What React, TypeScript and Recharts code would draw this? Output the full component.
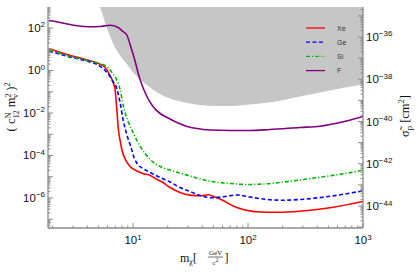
import { Area, ComposedChart, Line, XAxis, YAxis } from 'recharts'

// masses in GeV/c^2 (left axis units)
const xeMass = [1.86, 2.67, 3.98, 4.86, 5.71, 6.31, 6.7, 6.97, 7.11, 7.26, 7.41, 7.71, 8.02, 8.77, 9.42, 10.6, 12.2, 14.1, 16.2, 18.2, 21.0, 25.6, 31.3, 38.3, 44.9, 51.7, 60.7, 74.1, 94.2, 127, 179, 283, 516, 1000]
const xeVal = [10.5, 5.66, 3.12, 2.25, 1.38, 0.582, 0.272, 0.128, 0.0432, 0.0106, 0.00232, 5.08e-4, 1.72e-4, 5.22e-5, 3.03e-5, 1.97e-5, 1.42e-5, 1.15e-5, 7.43e-6, 5.36e-6, 3.12e-6, 1.82e-6, 1.36e-6, 1.27e-6, 1.42e-6, 1.11e-6, 7.63e-7, 4.21e-7, 2.72e-7, 2.19e-7, 2.12e-7, 2.39e-7, 3.46e-7, 6.84e-7]

const geMass = [1.86, 2.67, 3.98, 4.86, 5.71, 6.31, 6.7, 7.26, 7.71, 8.18, 8.87, 9.61, 10.2, 11.0, 12.2, 14.1, 17.2, 21.0, 25.6, 31.3, 38.3, 49.6, 63.1, 80.2, 104, 146, 201, 283, 449, 697, 1000]
const geVal = [8.27, 4.71, 2.74, 1.92, 1.0, 0.522, 0.304, 0.128, 0.0312, 0.00494, 8.73e-4, 2.38e-4, 8.05e-5, 3.77e-5, 2.44e-5, 1.58e-5, 9.23e-6, 5.66e-6, 3.12e-6, 2.02e-6, 1.31e-6, 1.02e-6, 1.18e-6, 1.38e-6, 1.11e-6, 8.5e-7, 7.87e-7, 8.5e-7, 1.09e-6, 1.54e-6, 2.18e-6]

const siMass = [1.86, 2.67, 3.98, 4.86, 5.95, 6.56, 7.11, 7.71, 8.18, 9.05, 10, 11.5, 14.1, 17.2, 22.3, 31.3, 46.8, 69.7, 97.9, 146, 232, 423, 697, 1000]
const siVal = [9.22, 5.08, 2.96, 2.3, 1.46, 0.805, 0.42, 0.128, 0.0251, 0.00398, 0.00121, 2.74e-4, 6.48e-5, 3.03e-5, 1.87e-5, 1.08e-5, 6.18e-6, 4.81e-6, 4.32e-6, 4.66e-6, 6.18e-6, 9.53e-6, 1.42e-5, 2.01e-5]

const fMass = [1.86, 2.32, 3.13, 4.23, 5.16, 6.31, 7.41, 8.18, 8.87, 9.42, 10.2, 11.5, 13.2, 14.9, 17.2, 19.8, 24.1, 29.5, 38.3, 46.8, 69.7, 104, 155, 283, 423, 631, 1000]
const fVal = [225, 182, 131, 114, 118, 135, 106, 68.4, 44.4, 16.7, 4.09, 0.377, 0.0598, 0.0202, 0.00947, 0.00614, 0.00357, 0.00232, 0.00177, 0.00158, 0.0015, 0.0015, 0.00167, 0.00208, 0.00239, 0.00357, 0.00685]

// lower edge of the excluded (gray) region
const grayMass = [5.16, 5.6, 6.07, 6.7, 7.71, 8.87, 10.4, 12.7, 16.2, 21.0, 28.3, 38.3, 51.7, 69.7, 94.2, 127, 179, 256, 346, 516, 697, 1000]
const grayLow = [973, 251, 68.4, 18.7, 5.08, 1.92, 0.649, 0.245, 0.0922, 0.0481, 0.0312, 0.0238, 0.0213, 0.0213, 0.0238, 0.028, 0.0359, 0.0536, 0.0743, 0.115, 0.158, 0.219]

const X_DOMAIN = [1.82, 1000]
const Y_DOMAIN = [3.87e-8, 973]
const Y2_DOMAIN = [9.1e-46, 2.63e-35]

const xLabelExp = [1, 2, 3]
const yLabelExp = [2, 0, -2, -4, -6]
const y2LabelExp = [-36, -38, -40, -42, -44]

const SERIES = [
  { name: 'Xe', mass: xeMass, val: xeVal, color: '#ff0000', dash: undefined },
  { name: 'Ge', mass: geMass, val: geVal, color: '#0000ff', dash: '4 2.5' },
  { name: 'Si', mass: siMass, val: siVal, color: '#00b400', dash: '4 2 1.2 2' },
  { name: 'F', mass: fMass, val: fVal, color: '#800080', dash: undefined },
]

function logTicks(lo: number, hi: number) {
  const out: number[] = []
  for (let e = lo; e <= hi; e++) {
    for (let m = 1; m < 10; m++) out.push(Number((m * Math.pow(10, e)).toPrecision(3)))
  }
  return out
}

const xTicks = logTicks(0, 3).filter((v) => v >= 1.9 && v <= 1000)
const yTicks = logTicks(-8, 2).filter((v) => v >= 3.9e-8 && v <= 973)
const y2Ticks = logTicks(-46, -35).filter((v) => v >= 9.2e-46 && v <= 2.6e-35)

const SANS = 'Liberation Sans, Arial, sans-serif'
const SERIF = 'Liberation Serif, Times New Roman, serif'
const FRAME = '#8a8a8a'

function decade(v: number) {
  const l = Math.log10(v)
  const r = Math.round(l)
  return Math.abs(l - r) < 1e-6 ? r : null
}

function Pow({ x, y, exp, anchor }: { x: number; y: number; exp: number; anchor: string }) {
  return (
    <text x={x} y={y} textAnchor={anchor} fontFamily={SANS} fontSize={11.5} fill="#111">
      <tspan>10</tspan>
      <tspan dy={-4.5} fontSize={8}>{exp < 0 ? '\u2212' + -exp : exp}</tspan>
    </text>
  )
}

function makeTick(side: string, labels: number[]) {
  return (props: any) => {
    const { x, y, payload } = props
    const e = decade(payload.value)
    const len = e === null ? 2.5 : 5
    const show = e !== null && labels.includes(e)
    if (side === 'bottom')
      return (
        <g>
          <line x1={x} y1={y} x2={x} y2={y - len} stroke={FRAME} />
          {show && <Pow x={x} y={y + 16} exp={e as number} anchor="middle" />}
        </g>
      )
    if (side === 'top') return <line x1={x} y1={y} x2={x} y2={y + len} stroke={FRAME} />
    if (side === 'left')
      return (
        <g>
          <line x1={x} y1={y} x2={x + len} y2={y} stroke={FRAME} />
          {show && <Pow x={x - 3} y={y + 4} exp={e as number} anchor="end" />}
        </g>
      )
    return (
      <g>
        <line x1={x} y1={y} x2={x - len} y2={y} stroke={FRAME} />
        {show && <Pow x={x + 3} y={y + 4} exp={e as number} anchor="start" />}
      </g>
    )
  }
}

export default function App() {
  const gray = grayMass.map((x, i) => ({ x, band: [grayLow[i], Y_DOMAIN[1]] }))
  return (
    <div style={{ position: 'relative', width: 420, height: 273, background: '#fff' }}>
      <style>{'body{margin:0}'}</style>
      <ComposedChart width={420} height={273} margin={{ top: 7, right: 0, bottom: 0, left: 0 }}>
        <XAxis
          dataKey="x"
          type="number"
          scale="log"
          domain={X_DOMAIN}
          allowDataOverflow
          ticks={xTicks}
          interval={0}
          tick={makeTick('bottom', xLabelExp)}
          tickLine={false}
          tickSize={0}
          tickMargin={0}
          height={45}
          stroke={FRAME}
          strokeWidth={1.3}
        />
        <XAxis
          xAxisId="top"
          dataKey="x"
          type="number"
          orientation="top"
          scale="log"
          domain={X_DOMAIN}
          allowDataOverflow
          ticks={xTicks}
          interval={0}
          tick={makeTick('top', [])}
          tickLine={false}
          tickSize={0}
          tickMargin={0}
          height={0}
          stroke="#9a9a9a"
          strokeWidth={2}
        />
        <YAxis
          type="number"
          scale="log"
          domain={Y_DOMAIN}
          allowDataOverflow
          ticks={yTicks}
          interval={0}
          tick={makeTick('left', yLabelExp)}
          tickLine={false}
          tickSize={0}
          tickMargin={0}
          width={48}
          stroke={FRAME}
          strokeWidth={1.3}
        />
        <YAxis
          yAxisId="right"
          orientation="right"
          type="number"
          scale="log"
          domain={Y2_DOMAIN}
          allowDataOverflow
          ticks={y2Ticks}
          interval={0}
          tick={makeTick('right', y2LabelExp)}
          tickLine={false}
          tickSize={0}
          tickMargin={0}
          width={57}
          stroke={FRAME}
          strokeWidth={1.3}
        />
        <Area
          data={gray}
          dataKey="band"
          type="monotone"
          fill="#c6c6c6"
          fillOpacity={1}
          stroke="none"
          isAnimationActive={false}
        />
        {SERIES.map((s) => (
          <Line
            key={s.name}
            data={s.mass.map((x, i) => ({ x, y: s.val[i] }))}
            dataKey="y"
            type="monotone"
            stroke={s.color}
            strokeWidth={1.6}
            strokeDasharray={s.dash}
            dot={false}
            isAnimationActive={false}
          />
        ))}
      </ComposedChart>
      <svg width={420} height={273} style={{ position: 'absolute', left: 0, top: 0, pointerEvents: 'none' }}>
        {SERIES.map((s, i) => (
          <g key={s.name}>
            <line x1={306} x2={325} y1={28 + i * 14.2} y2={28 + i * 14.2} stroke={s.color} strokeWidth={1.3} strokeDasharray={s.dash} />
            <text x={337} y={30.5 + i * 14.2} fontFamily={SANS} fontSize={7} fill="#333">{s.name}</text>
          </g>
        ))}
        <text transform="translate(15,107) rotate(-90)" textAnchor="middle" fontFamily={SERIF} fontSize={12.5} fill="#111">
          <tspan>( c</tspan>
          <tspan dy={-4.5} fontSize={8}>N</tspan>
          <tspan dx={-5.5} dy={8.5} fontSize={8}>12</tspan>
          <tspan dy={-4}> m</tspan>
          <tspan dy={-4.5} fontSize={8}>2</tspan>
          <tspan dx={-4.5} dy={7.5} fontSize={8}>v</tspan>
          <tspan dy={-3}> )</tspan>
          <tspan dy={-5} fontSize={8}>2</tspan>
        </text>
        <text transform="translate(409,116) rotate(-90)" textAnchor="middle" fontFamily={SERIF} fontSize={12.5} fill="#111">
          <tspan>{'\u03c3\u0303'}</tspan>
          <tspan dy={3} fontSize={8.5}>p</tspan>
          <tspan dy={-3}> [cm</tspan>
          <tspan dy={-5} fontSize={8.5}>2</tspan>
          <tspan dy={5}>]</tspan>
        </text>
        <text x={180} y={262} fontFamily={SERIF} fontSize={12} fill="#111">
          <tspan>m</tspan>
          <tspan dy={2} fontSize={8}>{'\u03c7'}</tspan>
          <tspan dy={-2}>[</tspan>
        </text>
        <text x={215.5} y={255} textAnchor="middle" fontFamily={SERIF} fontSize={7} fill="#111">GeV</text>
        <line x1={208} x2={223} y1={257} y2={257} stroke="#111" strokeWidth={0.6} />
        <text x={215.5} y={264.5} textAnchor="middle" fontFamily={SERIF} fontSize={7} fill="#111">
          <tspan>c</tspan>
          <tspan dy={-2.5} fontSize={5.5}>2</tspan>
        </text>
        <text x={224.5} y={262} fontFamily={SERIF} fontSize={12} fill="#111">]</text>
      </svg>
    </div>
  )
}
